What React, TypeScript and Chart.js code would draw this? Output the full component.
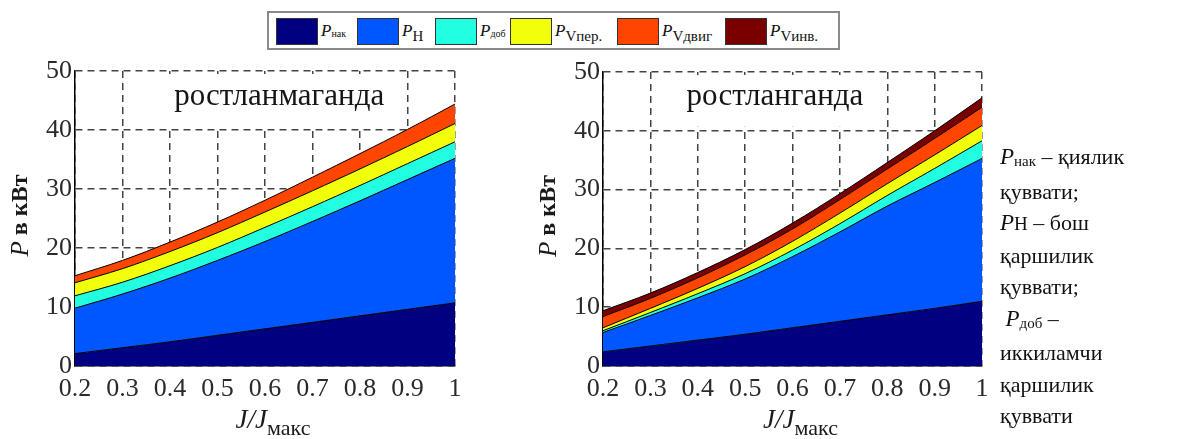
import React, { useEffect, useRef } from "react";
import { Chart, registerables } from "chart.js";

Chart.register(...registerables);

// ---- data ----
const J = [0.2, 0.3, 0.4, 0.5, 0.6, 0.7, 0.8, 0.9, 1.0];
const yTickValues = [0, 10, 20, 30, 40, 50];

const seriesKeys = ["нак", "Н", "доб", "Vпер.", "Vдвиг", "Vинв."];
const seriesColors = ["#000080", "#0057FF", "#22FFE0", "#F2FF0A", "#FF4500", "#7A0000"];

// left panel: "ростланмаганда"
const leftPnak = [2.1, 3.1, 4.1, 5.2, 6.3, 7.4, 8.5, 9.6, 10.7];
const leftPn = [7.7, 9.1, 10.8, 12.7, 14.8, 17.1, 19.5, 22.0, 24.5];
const leftPdob = [2.1, 2.0, 2.1, 2.2, 2.4, 2.5, 2.6, 2.7, 2.8];
const leftPVper = [2.2, 2.3, 2.4, 2.5, 2.6, 2.7, 2.8, 2.9, 3.1];
const leftPVdvig = [1.2, 1.4, 1.6, 1.8, 2.0, 2.3, 2.6, 2.9, 3.3];

// right panel: "ростланганда"
const rightPnak = [2.4, 3.4, 4.4, 5.4, 6.5, 7.6, 8.7, 9.8, 11.0];
const rightPn = [3.3, 5.2, 7.2, 9.4, 12.1, 15.2, 18.5, 21.4, 24.3];
const rightPdob = [0.3, 0.5, 0.7, 0.9, 1.1, 1.4, 1.8, 2.4, 3.0];
const rightPVper = [0.5, 0.7, 0.9, 1.2, 1.5, 1.8, 2.0, 2.3, 2.6];
const rightPVdvig = [1.9, 1.7, 1.8, 2.0, 2.1, 2.3, 2.5, 2.8, 3.1];
const rightPVinv = [1.0, 0.9, 0.9, 0.9, 1.0, 1.0, 1.1, 1.3, 1.6];

const leftTitle = "ростланмаганда";
const rightTitle = "ростланганда";

const noteLines: { p?: string; sub?: string; text: string; subBig?: boolean }[] = [
  { p: "P", sub: "нак", text: " – қиялик" },
  { text: "қуввати;" },
  { p: "P", sub: "Н", subBig: true, text: " – бош" },
  { text: "қаршилик" },
  { text: "қуввати;" },
  { p: "P", sub: "доб", text: " –" },
  { text: "иккиламчи" },
  { text: "қаршилик" },
  { text: "қуввати" },
];

const SERIF = '"Liberation Serif", "Times New Roman", serif';

// ---- plugins ----
const insetPlugin = {
  id: "inset",
  beforeDatasetsDraw(chart: any, _args: any, opts: any) {
    const { ctx, scales } = chart;
    const cx = scales.x.getPixelForValue(opts.x);
    const cy = scales.y.getPixelForValue(opts.y);
    ctx.save();
    ctx.font = `31px ${SERIF}`;
    const w = ctx.measureText(opts.text).width;
    ctx.fillStyle = "#ffffff";
    const top = chart.chartArea.top + 3;
    const bottom = scales.y.getPixelForValue(40) - 4;
    ctx.fillRect(cx - w / 2 - 15, top, w + 30, bottom - top);
    ctx.fillStyle = "#151515";
    ctx.textAlign = "center";
    ctx.textBaseline = "middle";
    ctx.fillText(opts.text, cx, cy);
    ctx.restore();
  },
};

const axisTitlePlugin = {
  id: "axisTitles",
  afterDraw(chart: any) {
    const { ctx, chartArea: a } = chart;
    ctx.save();
    ctx.fillStyle = "#1a1a1a";
    ctx.textAlign = "left";
    // y title
    ctx.save();
    ctx.translate(a.left - 54, (a.top + a.bottom) / 2 - 3);
    ctx.rotate(-Math.PI / 2);
    ctx.textBaseline = "middle";
    ctx.font = `italic 25px ${SERIF}`;
    const wP = ctx.measureText("P").width;
    ctx.font = `bold 24px ${SERIF}`;
    const wR = ctx.measureText(" в кВт").width;
    const x0 = -(wP + wR) / 2;
    ctx.font = `italic 25px ${SERIF}`;
    ctx.fillText("P", x0, 0);
    ctx.font = `bold 24px ${SERIF}`;
    ctx.fillText(" в кВт", x0 + wP, 0);
    ctx.restore();
    // x title
    ctx.textBaseline = "alphabetic";
    ctx.font = `italic 27px ${SERIF}`;
    const wJ = ctx.measureText("J/J").width;
    ctx.font = `22px ${SERIF}`;
    const wS = ctx.measureText("макс").width;
    const xs = (a.left + a.right) / 2 + 8 - (wJ + wS) / 2;
    const yb = a.bottom + 62;
    ctx.font = `italic 27px ${SERIF}`;
    ctx.fillText("J/J", xs, yb);
    ctx.font = `22px ${SERIF}`;
    ctx.fillText("макс", xs + wJ, yb + 7);
    ctx.restore();
  },
};

function makeConfig(series: number[][], title: string, tx: number, ty: number, yWidth: number, pad: any) {
  const datasets = series.map((d, i) => ({
    label: "P" + seriesKeys[i],
    data: J.map((x, k) => ({ x, y: d[k] })),
    fill: i === 0 ? "origin" : "-1",
    backgroundColor: seriesColors[i],
    borderColor: "#000000",
    borderWidth: 1,
    pointRadius: 0,
    tension: 0.35,
  }));
  const gridCommon = {
    color: "#444444",
    lineWidth: 1.5,
    drawTicks: false,
  };
  return {
    type: "line",
    data: { datasets },
    plugins: [insetPlugin, axisTitlePlugin],
    options: {
      animation: false,
      responsive: false,
      layout: { padding: pad },
      plugins: {
        legend: { display: false },
        tooltip: { enabled: false },
        inset: { text: title, x: tx, y: ty },
      },
      scales: {
        x: {
          type: "linear",
          min: J[0],
          max: J[J.length - 1],
          grid: gridCommon,
          border: { display: true, color: "#000", width: 1.5, dash: [7, 5] },
          ticks: {
            stepSize: 0.1,
            padding: 8,
            color: "#2a2a2a",
            font: { family: SERIF, size: 26 },
            maxRotation: 0,
            callback: (v: number) => {
              const r = Math.round(v * 10) / 10;
              return r === 1 ? "1" : r.toFixed(1);
            },
          },
          afterFit: (s: any) => {
            s.height = 73;
            s.paddingLeft = 0;
            s.paddingRight = 0;
          },
        },
        y: {
          type: "linear",
          stacked: true,
          min: yTickValues[0],
          max: yTickValues[yTickValues.length - 1],
          grid: gridCommon,
          border: { display: true, color: "#000", width: 1.5, dash: [7, 5] },
          ticks: {
            stepSize: 10,
            padding: 3,
            color: "#2a2a2a",
            font: { family: SERIF, size: 26 },
          },
          afterFit: (s: any) => {
            s.width = yWidth;
            s.paddingTop = 0;
            s.paddingBottom = 0;
          },
        },
      },
    },
  };
}

function Panel(props: { left: number; top: number; width: number; height: number; config: any }) {
  const ref = useRef<HTMLCanvasElement>(null);
  useEffect(() => {
    const chart = new Chart(ref.current as HTMLCanvasElement, props.config);
    return () => chart.destroy();
  }, []);
  return (
    <canvas
      ref={ref}
      width={props.width}
      height={props.height}
      style={{ position: "absolute", left: props.left, top: props.top, width: props.width, height: props.height }}
    />
  );
}

const legendOffsets = [9, 90, 168, 243, 350, 458];

function Legend() {
  return (
    <div
      style={{
        position: "absolute",
        left: 267,
        top: 11,
        width: 573,
        height: 39,
        boxSizing: "border-box",
        border: "2px solid #8a8a8a",
        background: "#fff",
        fontFamily: SERIF,
      }}
    >
      {seriesKeys.map((k, i) => {
        const tiny = i === 0 || i === 2;
        return (
          <div
            key={k}
            style={{ position: "absolute", left: legendOffsets[i] - 2, top: 4, display: "flex", alignItems: "center", height: 28 }}
          >
            <div style={{ width: 42, height: 27, background: seriesColors[i], border: "1px solid #333", boxSizing: "border-box" }} />
            <span style={{ fontStyle: "italic", fontSize: 17, marginLeft: 3, color: "#111" }}>P</span>
            <span
              style={{
                fontSize: tiny ? 10 : 15,
                position: "relative",
                top: tiny ? 2 : 5,
                color: "#111",
              }}
            >
              {k}
            </span>
          </div>
        );
      })}
    </div>
  );
}

function Notes() {
  return (
    <div
      style={{
        position: "absolute",
        left: 1000,
        top: 141,
        fontFamily: SERIF,
        fontSize: 22,
        lineHeight: "31.5px",
        color: "#111",
        whiteSpace: "nowrap",
      }}
    >
      {noteLines.map((l, i) => (
        <div key={i}>
          {i === 5 ? "\u00a0" : ""}
          {l.p ? <span style={{ fontStyle: "italic", fontSize: 23 }}>{l.p}</span> : null}
          {l.sub ? (
            <span style={{ fontSize: l.subBig ? 19 : 15, position: "relative", top: l.subBig ? 0 : 2 }}>{l.sub}</span>
          ) : null}
          {l.text}
        </div>
      ))}
    </div>
  );
}

export default function App() {
  const leftCfg = makeConfig(
    [leftPnak, leftPn, leftPdob, leftPVper, leftPVdvig],
    leftTitle,
    0.63,
    45.7,
    75,
    { top: 11, right: 15, left: 0, bottom: 0 }
  );
  const rightCfg = makeConfig(
    [rightPnak, rightPn, rightPdob, rightPVper, rightPVdvig, rightPVinv],
    rightTitle,
    0.563,
    45.7,
    83,
    { top: 12, right: 18, left: 0, bottom: 0 }
  );
  return (
    <div style={{ position: "absolute", left: 0, top: 0, width: 1192, height: 439, background: "#fff", overflow: "hidden" }}>
      <Panel left={0} top={60} width={470} height={379} config={leftCfg} />
      <Panel left={520} top={60} width={480} height={379} config={rightCfg} />
      <Legend />
      <Notes />
    </div>
  );
}
